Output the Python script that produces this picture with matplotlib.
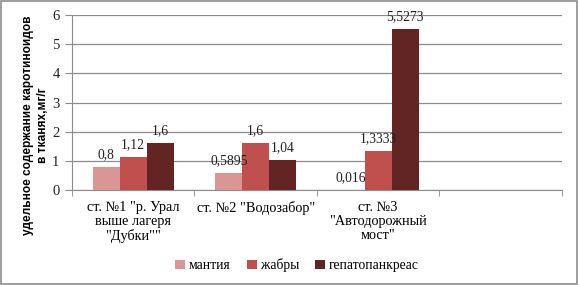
import numpy as np
import matplotlib.pyplot as plt
from matplotlib.patches import Rectangle

# station labels (4th slot is empty in the original)
categories = ['ст. №1 "р. Урал\nвыше лагеря\n"Дубки""', 'ст. №2 "Водозабор"',
              'ст. №3\n"Автодорожный\nмост"', '']
series_names = ['мантия', 'жабры', 'гепатопанкреас']
mantia = [0.8, 0.5895, 0.016]
gills = [1.12, 1.6, 1.3333]
hepato = [1.6, 1.04, 5.5273]
labels = [['0,8', '0,5895', '0,016'], ['1,12', '1,6', '1,3333'], ['1,6', '1,04', '5,5273']]
colors = ['#d99694', '#c0504d', '#632523']

serif = 'Liberation Serif'
fig = plt.figure(figsize=(5.78, 2.85), dpi=100)
ax = fig.add_axes([0.1246, 0.3333, 0.972 - 0.1246, 0.947 - 0.3333])

x = np.arange(3)
w = 0.22
for i, (vals, c) in enumerate(zip([mantia, gills, hepato], colors)):
    pos = x + (i - 1) * w
    ax.bar(pos, vals, width=w, color=c, label=series_names[i], zorder=3)
    for p, v, t in zip(pos, vals, labels[i]):
        ax.text(p, v + 0.2, t, ha='center', va='bottom', fontsize=9.8,
                family=serif, color='#222222', zorder=4)

ax.set_xlim(-0.5, 3.5)
ax.set_ylim(0, 6)
ax.set_yticks(range(7))
ax.set_yticklabels([str(i) for i in range(7)], family=serif, fontsize=10.5)
ax.yaxis.grid(True, color='#8c8c8c', linewidth=0.9, zorder=0)
ax.set_xticks(np.arange(4))
ax.set_xticklabels(categories, family=serif, fontsize=10.3, linespacing=1.1)
ax.set_xticks(np.arange(-0.5, 4.0, 1), minor=True)
ax.tick_params(axis='x', which='major', length=0, pad=8)
ax.tick_params(axis='x', which='minor', length=4, color='#8c8c8c')
ax.tick_params(axis='y', length=5, color='#8c8c8c', pad=4, labelcolor='#222222')
for s in ['top', 'right']:
    ax.spines[s].set_visible(False)
for s in ['left', 'bottom']:
    ax.spines[s].set_color('#8c8c8c')

fig.text(0.062, 0.56, 'удельное содержание каротиноидов\nв тканях,мг/г', family='Liberation Sans',
         fontweight='bold', fontsize=8.6, rotation=90, ha='center', va='center',
         multialignment='center', linespacing=1.3)

leg = fig.legend(loc='center', bbox_to_anchor=(0.514, 0.07), ncol=3, frameon=False,
                 prop={'family': serif, 'size': 9.8}, handlelength=0.7, handleheight=0.7,
                 handletextpad=0.3, columnspacing=1.2)

fig.patches.append(Rectangle((0.002, 0.004), 0.996, 0.992, transform=fig.transFigure,
                             fill=False, edgecolor='#8c8c8c', linewidth=1.2))

fig.savefig('out.png', dpi=100)
